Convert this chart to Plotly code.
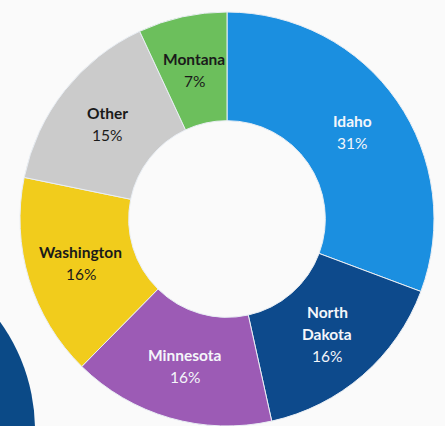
import numpy as np
import plotly.graph_objects as go

# ---- data ----
states = ["Idaho", "North Dakota", "Minnesota", "Washington", "Other", "Montana"]
shares = [31, 16, 16, 16, 15, 7]
label_lines = [["Idaho"], ["North", "Dakota"], ["Minnesota"], ["Washington"], ["Other"], ["Montana"]]
pct_labels = ["31%", "16%", "16%", "16%", "15%", "7%"]

colors = ["#1b8fe0", "#0d4a8c", "#9c5bb5", "#f1cc1c", "#cbcbcb", "#6cbf5c"]
text_colors = ["#f4f6fa", "#f4f6fa", "#f4f6fa", "#1a1a1a", "#1a1a1a", "#1a1a1a"]

W, H = 445, 426
HOLE = 0.475
dom_x = [20 / W, 434 / W]
dom_y = [0.0, 414 / H]

fig = go.Figure()
fig.add_trace(go.Pie(
    labels=states, values=shares, sort=False, direction="clockwise", rotation=0,
    hole=HOLE, domain=dict(x=dom_x, y=dom_y),
    marker=dict(colors=colors, line=dict(color="#e9eef4", width=1)),
    textinfo="none", hoverinfo="label+percent", showlegend=False,
))

# label positions derived from the pie geometry (mid-ring, mid-angle)
cx_px = (dom_x[0] + dom_x[1]) / 2 * W
cy_px = H - (dom_y[0] + dom_y[1]) / 2 * H
R = min((dom_x[1] - dom_x[0]) * W, (dom_y[1] - dom_y[0]) * H) / 2
r_mid = R * (1 + HOLE) / 2
vals = np.array(shares, dtype=float)
cum = np.cumsum(vals) - vals / 2
theta = 2 * np.pi * cum / vals.sum()
gap = 22
font_family = "Lato, 'Open Sans', sans-serif"
for i, th in enumerate(theta):
    x = cx_px + r_mid * np.sin(th)
    y = cy_px - r_mid * np.cos(th)
    lines = [f"<b>{t}</b>" for t in label_lines[i]] + [pct_labels[i]]
    n = len(lines)
    for j, t in enumerate(lines):
        yy = y + (j - (n - 1) / 2) * gap
        fig.add_annotation(
            x=x / W, y=1 - yy / H, xref="paper", yref="paper",
            text=t, showarrow=False, xanchor="center", yanchor="middle",
            font=dict(family=font_family, size=15.5, color=text_colors[i]),
        )

# decorative partial circle at lower left (neighbouring graphic)
fig.add_shape(type="circle", xref="paper", yref="paper",
              x0=-335 / W, x1=35 / W, y0=1 - 615 / H, y1=1 - 245 / H,
              fillcolor="#0b4a87", line=dict(width=0), layer="below")

fig.update_layout(
    width=W, height=H, margin=dict(l=0, r=0, t=0, b=0),
    paper_bgcolor="#fafafa", plot_bgcolor="#fafafa",
    font=dict(family=font_family),
)
fig.write_html("out.html", config={"displayModeBar": False},
               post_script="document.body.style.margin='0';document.body.style.overflow='hidden';")
